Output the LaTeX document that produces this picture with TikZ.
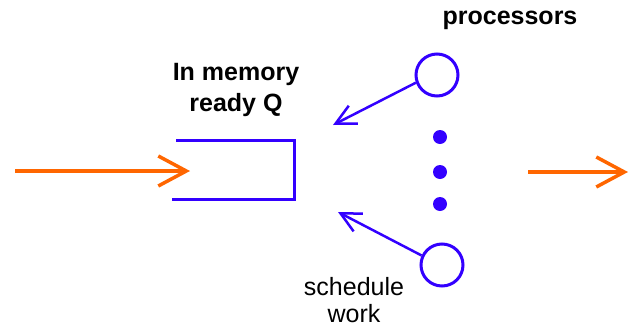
\documentclass[tikz,border=0pt]{standalone}
\usepackage{fontspec}
\setmainfont{Liberation Sans}
\usepackage{xcolor}
\usepackage{tikz}
\usetikzlibrary{arrows.meta,positioning}

\definecolor{qblue}{HTML}{3300FF}
\definecolor{flow}{HTML}{FF6600}

\tikzset{
    label text/.style={font=\fontsize{25}{31}\selectfont\bfseries, align=center},
    note text/.style={font=\fontsize{25}{27}\selectfont, align=center},
    processor/.style={circle, draw=qblue, line width=3pt, minimum size=42pt, inner sep=0pt},
    flow arrow/.style={draw=flow, line width=3.5pt, -{Straight Barb[length=28pt,width=30pt,line width=3.5pt]}},
    pick arrow/.style={draw=qblue, line width=2.5pt, -{Straight Barb[length=20pt,width=20pt,line width=2.5pt]}}
}

\begin{document}
\begin{tikzpicture}[x=1pt,y=-1pt]
                \useasboundingbox (0,0) rectangle (630,327);

                % queue
                \coordinate (qtl) at (176,140);
                \coordinate (qtr) at (294,140);
                \coordinate (qbr) at (294,199);
                \coordinate (qbl) at (172,199);
                \draw[
                    draw=qblue,
                    line width=3pt
                    ] (qtl) -- (qtr) -- (qbr) -- (qbl);

                \node[label text] (qlabel) at (236,90) {In memory\\ready Q};

                % processors
                \node[processor] (proc1) at (437,75) {};
                \node[processor] (proc2) at (442,265) {};
                \node[label text] (plabel) at (510,20) {processors};

                \foreach \y [count=\i] in {137,172,204} {
                    \fill[qblue] (440,\y) circle (7pt) coordinate (dot\i);
                }

                \node[note text] (slabel) at (354,300) {schedule\\work};

                % arrows
                \coordinate (in) at (15,171);
                \coordinate (inend) at (190,171);
                \draw[flow arrow] (in) to (inend);

                \coordinate (out) at (528,172);
                \coordinate (outend) at (628,172);
                \draw[flow arrow] (out) to (outend);

                \coordinate (tip1) at (333,125);
                \coordinate (tip2) at (338,212);
                \draw[pick arrow] (proc1.200) to (tip1);
                \draw[pick arrow] (proc2.155) to (tip2);

            \end{tikzpicture}
\end{document}
